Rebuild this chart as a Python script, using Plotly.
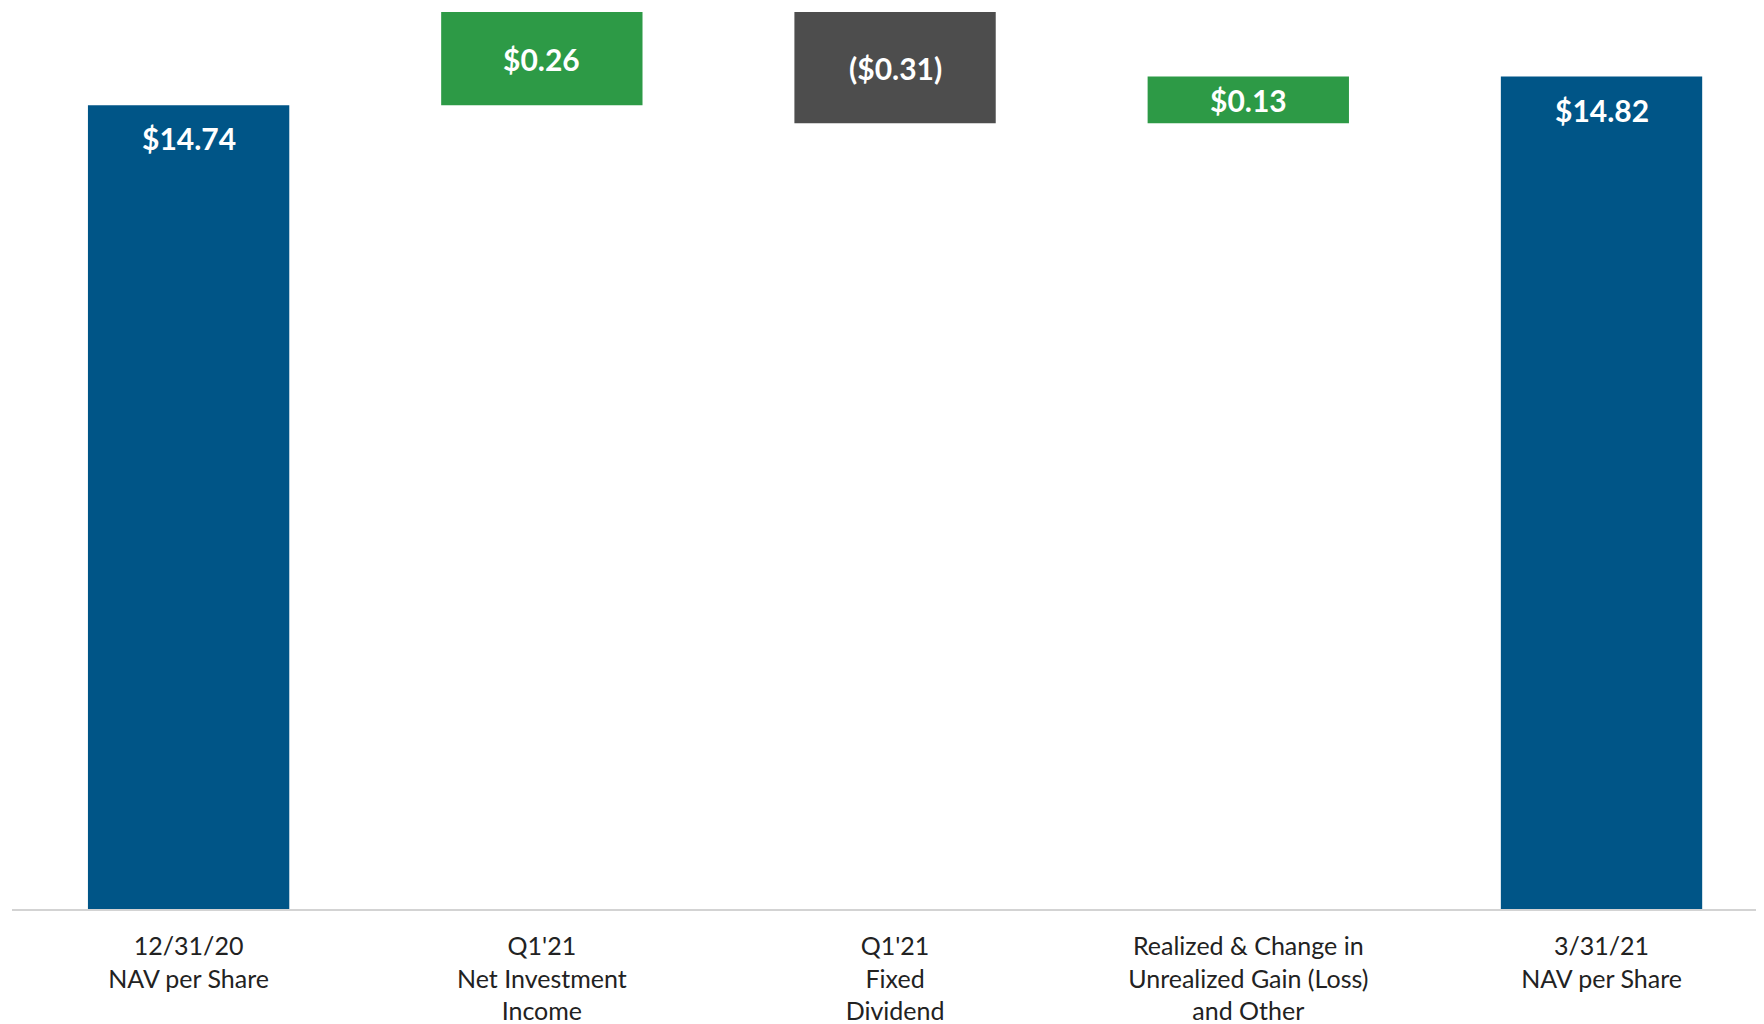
import plotly.graph_objects as go

# NAV per share bridge, Q1'21
categories = ["12/31/20<br>NAV per Share", "Q1'21<br>Net Investment<br>Income",
              "Q1'21<br>Fixed<br>Dividend", "Realized & Change in<br>Unrealized Gain (Loss)<br>and Other",
              "3/31/21<br>NAV per Share"]
measures = ["absolute", "relative", "relative", "relative", "total"]
values = [14.74, 0.26, -0.31, 0.13, 14.82]
labels = ["$14.74", "$0.26", "($0.31)", "$0.13", "$14.82"]

BLUE = "#005587"
GREEN = "#2D9A46"
GRAY = "#4D4D4D"

xpos = list(range(len(categories)))

fig = go.Figure()
fig.add_trace(go.Waterfall(
    x=xpos, y=values, measure=measures,
    width=0.57,
    increasing=dict(marker=dict(color=GREEN)),
    decreasing=dict(marker=dict(color=GRAY)),
    totals=dict(marker=dict(color=BLUE)),
    connector=dict(visible=False),
    textposition="none",
    hoverinfo="skip",
))

# value labels: near the top for the totals, centred for the steps
level = 0
for i, (m, v, lab) in enumerate(zip(measures, values, labels)):
    if m == "relative":
        y = level + v / 2
        shift = 0
        level += v
    else:
        level = v
        y = v
        shift = -33
    fig.add_annotation(x=i, y=y, yshift=shift, text=lab, showarrow=False,
                       xref="x", yref="y", yanchor="middle",
                       font=dict(family="Lato", size=30, color="white", weight="bold"))

# page body adds 8px around the figure
fig.update_layout(
    width=1756, height=1016,
    margin=dict(l=4, r=0, t=4, b=115),
    paper_bgcolor="white", plot_bgcolor="white",
    showlegend=False,
    font=dict(family="Lato", size=25, color="#222222"),
    xaxis=dict(tickvals=xpos, ticktext=categories, range=[-0.5, 4.46],
               showline=True, linecolor="#D3D3D3", linewidth=2,
               showgrid=False, zeroline=False, ticks="", ticklabelstandoff=14,
               fixedrange=True),
    yaxis=dict(range=[12.5, 15.0], visible=False, showgrid=False, fixedrange=True),
)

fig.write_html("out.html")
